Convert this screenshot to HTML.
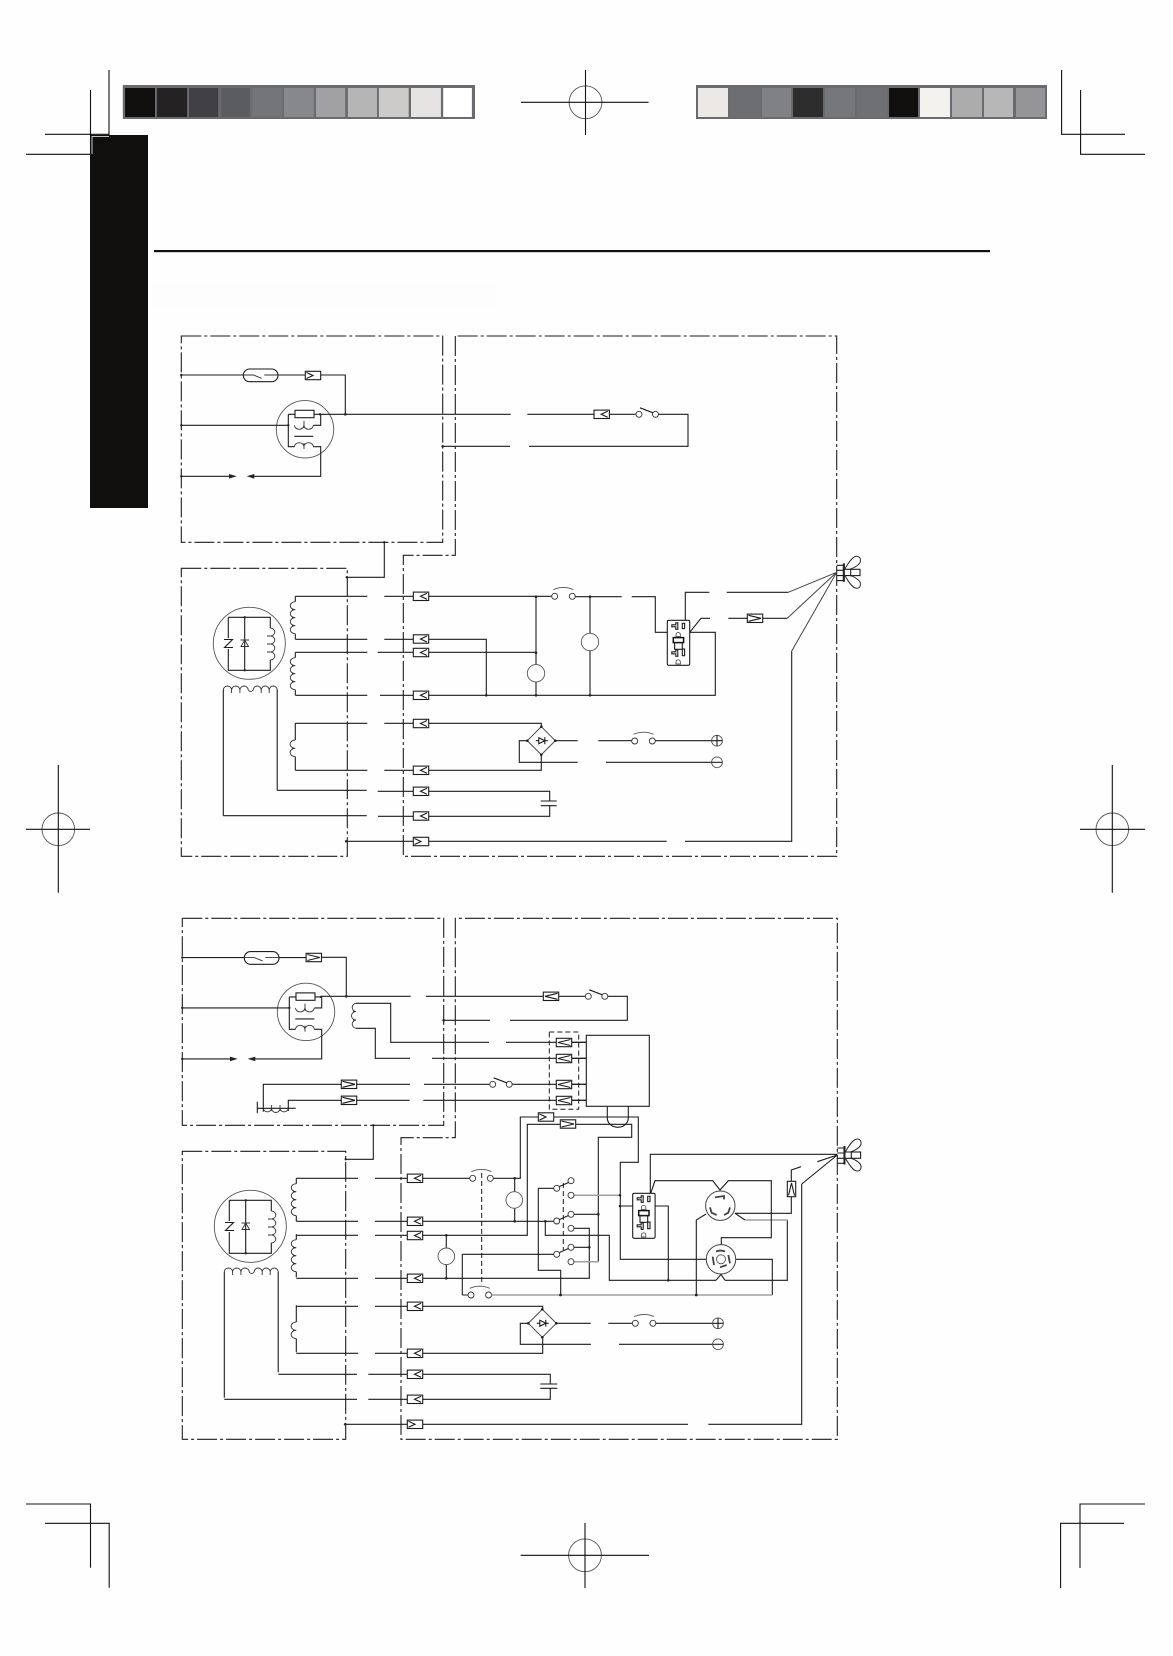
<!DOCTYPE html>
<html><head><meta charset="utf-8"><style>
html,body{margin:0;padding:0;background:#fefefe}
svg{display:block}
.w{fill:none;stroke:#1c1c1c;stroke-width:1.1}
.m{fill:none;stroke:#111;stroke-width:1.1}
.t{fill:none;stroke:#555;stroke-width:.9}
.k{fill:none;stroke:#333;stroke-width:.9}
.d{fill:none;stroke:#1c1c1c;stroke-width:1.1;stroke-dasharray:20 3 3 3}
.s{fill:none;stroke:#1c1c1c;stroke-width:1;stroke-dasharray:5 3}
.g{fill:none;stroke:#a0a0a0;stroke-width:1.5}
.c{fill:#fefefe;stroke:#333;stroke-width:.9}
.f{fill:#222;stroke:none}
</style></head><body>
<svg width="1173" height="1656" viewBox="0 0 1173 1656" xmlns="http://www.w3.org/2000/svg">
<defs>
<g id="cl"><rect x="-7.7" y="-4.2" width="15.4" height="8.4" fill="#fefefe" stroke="#1c1c1c" stroke-width="1.1"/><path class="w" d="M6 -3L-.5 0L6 3"/></g>
<g id="cr"><rect x="-7.7" y="-4.2" width="15.4" height="8.4" fill="#fefefe" stroke="#1c1c1c" stroke-width="1.1"/><path class="w" d="M-6.5 -3L0 0L-6.5 3"/></g>
<g id="cw"><rect x="-7.7" y="-4.2" width="15.4" height="8.4" fill="#fefefe" stroke="#1c1c1c" stroke-width="1.1"/><path class="w" d="M-6.5 -3L6 0L-6.5 3"/></g>
<g id="cn"><rect x="-7.7" y="-4.2" width="15.4" height="8.4" fill="#fefefe" stroke="#1c1c1c" stroke-width="1.1"/><path class="w" d="M6.5 -3L-6 0L6.5 3"/></g>
<g id="sw"><circle class="c" cx="0" cy="0" r="3"/><circle class="c" cx="17.6" cy="0" r="3"/><path class="t" d="M-1.3 -6.7Q8.8 -11 18.7 -6.7"/></g>
<g id="so"><circle class="c" cx="0" cy="0" r="3"/><circle class="c" cx="16.5" cy="0" r="3"/><path class="w" d="M1 -6.5L14 -1.5"/></g>
<g id="bridge"><path d="M0 -14L14 0L0 14L-14 0Z" fill="#fefefe" stroke="#444" stroke-width="1"/><path class="w" d="M-5.5 0H-2.5M3.5 0H6.5M3.5 -3.5V3.5"/><path class="w" d="M-2.5 -3L3.5 0L-2.5 3Z"/><circle class="f" cx="0" cy="-14" r="1.3"/><circle class="f" cx="0" cy="14" r="1.3"/><circle class="f" cx="-14" cy="0" r="1.3"/><circle class="f" cx="14" cy="0" r="1.3"/></g>
<g id="plus"><circle class="t" r="5.4"/><path class="w" d="M-5.4 0H5.4M0 -5.4V5.4"/></g>
<g id="minus"><circle class="t" r="5.4"/><path class="w" d="M-5.4 0H5.4"/></g>
<g id="outlet">
<rect x="0" y="0" width="22.4" height="45" rx="1.5" fill="#fefefe" stroke="#1c1c1c" stroke-width="1.1"/>
<rect class="w" x="15" y="3" width="2.3" height="5.3"/>
<path class="w" d="M8.5 2.5h2v6.5h-2v-2.5h-4v-2h4z"/>
<path class="t" d="M8.7 16.3v-2a2.2 2.2 0 0 1 4.4 0v2z"/>
<rect x="6" y="17.3" width="10.3" height="5" fill="#fefefe" stroke="#111" stroke-width="1.5"/>
<rect class="w" x="7.3" y="22.3" width="7.7" height="6.7"/>
<path class="w" d="M8.5 29.5h2v6.5h-2v-2.5h-4v-2h4z"/>
<rect class="w" x="15" y="28.7" width="2.3" height="6.7"/>
<path class="t" d="M8.7 43.7v-2a2.2 2.2 0 0 1 4.4 0v2z"/>
</g>
<g id="nut">
<path class="w" d="M8 -3H14M8 3.3H14"/>
<path class="w" d="M0 -7H6.7V8.3H0M0 -2H6.7M0 3.3H6.7"/>
<rect class="f" x="6.2" y="-9" width="2" height="18.5"/>
<path d="M8 -3C12 -10 16 -16 20 -16C24 -16 25 -11 22 -8C19 -5 16 -4 13 -3M8 3C12 10 16 16 20 16C24 16 25 11 22 8C19 5 16 4 13 3" fill="none" stroke="#2a2a2a" stroke-width="1"/>
<rect class="w" x="14" y="-3" width="9.3" height="6.3" fill="#fefefe"/>
</g>
<g id="tf">
<rect class="w" x="243.3" y="369" width="34.7" height="12.7" rx="6.3"/>
<path class="k" d="M243.3 375H253.3L261.7 378.3M264.3 375H278"/>
<circle class="t" cx="305" cy="429.3" r="28.7"/>
<rect class="w" x="295" y="410.3" width="19" height="7.4"/>
<path class="w" d="M181.3 375H243.3M278 375H305M181.3 425.3H288.3M288.3 414.3V446.7H294.5M288.3 414.3H295M314 414.3H320.7V425.3H313.5M294.3 436.3H313.3M313.3 446.7H320.7V476.3H250M181.3 476.3H232"/>
<path class="k" d="M294.5 425.3a4.7 4 0 0 0 9.4 0a4.7 4 0 0 0 9.4 0M294.5 446.7a4.7 -4 0 0 1 9.4 0a4.7 -4 0 0 1 9.4 0M304 421V428M304 443V449"/>
<path class="f" d="M229 474L236.7 476.3L229 478.6ZM254.3 474L246.7 476.3L254.3 478.6Z"/>
<circle class="f" cx="181.3" cy="375" r="1.2"/><circle class="f" cx="181.3" cy="425.3" r="1.2"/><circle class="f" cx="181.3" cy="476.3" r="1.2"/><circle class="f" cx="288.3" cy="425.3" r="1.2"/><circle class="f" cx="320" cy="414.3" r="1.2"/>
</g>
<g id="gen">
<circle class="t" cx="249.3" cy="643.3" r="36"/>
<path class="w" d="M228.3 617.3H270.3V628M270.3 660V670.3H228.3V617.3M244.7 617.3V670.3"/>
<path class="k" d="M270.3 628a4.5 4 0 0 1 0 8a4.5 4 0 0 1 0 8a4.5 4 0 0 1 0 8a4.5 4 0 0 1 0 8M267 636H270M267 644H270M267 652H270"/>
<rect x="224" y="638" width="9" height="11" fill="#fefefe"/>
<path class="w" d="M224 639.5H232.5L224.5 647.5H233"/>
<path class="k" d="M240.5 646.5H249M241 646.5L244.7 640L248.5 646.5M240.5 640H249"/>
<circle class="f" cx="244.7" cy="617.3" r="1.2"/><circle class="f" cx="244.7" cy="670.3" r="1.2"/>
</g>
<g id="coils">
<path class="w" d="M295.3 596.3V601.7M295.3 633.7V639.3M295.3 652.3V657.7M295.3 689.7V695.3M295.3 723.3V740M295.3 756.6V770.3M223.3 815.7V690M277.2 690V790.3"/>
<path class="k" d="M295.3 601.7a5 4 0 0 0 0 8a5 4 0 0 0 0 8a5 4 0 0 0 0 8a5 4 0 0 0 0 8M292 609.7H295M292 617.7H295M292 625.7H295"/>
<path class="k" d="M295.3 657.7a5 4 0 0 0 0 8a5 4 0 0 0 0 8a5 4 0 0 0 0 8a5 4 0 0 0 0 8M292 665.7H295M292 673.7H295M292 681.7H295"/>
<path class="k" d="M295.3 740a5 4 0 0 0 0 8.3a5 4 0 0 0 0 8.3M292 748.3H295"/>
<path class="k" d="M223.3 690a4.15 4 0 0 1 8.3 0a4.15 4 0 0 1 8.3 0a4.15 4 0 0 1 8.3 0q2.5 3 5 0a4 4 0 0 1 8 0a4 4 0 0 1 8 0a4 4 0 0 1 8 0M231.6 690v3M239.9 690v3M261.2 690v3M269.2 690v3"/>
</g>
</defs>

<rect x="153" y="283" width="342" height="24" fill="#fdfdfd"/>
<!-- printer marks -->
<rect x="90" y="135" width="58" height="373" fill="#100f0d"/>
<path d="M92 154V136.5H109" fill="none" stroke="#fff" stroke-width=".8"/>
<path class="m" d="M109 70V135M90.5 90V154.3M45 134.3H109M26 154.3H91"/>
<rect x="122.8" y="85" width="352.2" height="34" fill="#6a6a70"/>
<g>
<rect x="125.1" y="88" width="29.9" height="29" fill="#100f0d"/><rect x="156.9" y="88" width="30.2" height="29" fill="#242223"/><rect x="189" y="88" width="29.2" height="29" fill="#414044"/><rect x="221.2" y="88" width="28.7" height="29" fill="#5b5c60"/><rect x="252.2" y="88" width="29.8" height="29" fill="#747579"/><rect x="284" y="88" width="29.8" height="29" fill="#87888c"/><rect x="316.1" y="88" width="29.1" height="29" fill="#a1a1a3"/><rect x="347.9" y="88" width="29.1" height="29" fill="#b6b5b6"/><rect x="378.9" y="88" width="29.8" height="29" fill="#cccbc9"/><rect x="411" y="88" width="29.9" height="29" fill="#e5e4e2"/><rect x="443.2" y="88" width="28.7" height="29" fill="#fff"/>
</g>
<rect x="696" y="85" width="351" height="34" fill="#6a6a70"/>
<g>
<rect x="698" y="88" width="30" height="29" fill="#ebe8e6"/><rect x="730" y="88" width="30" height="29" fill="#6d6e72"/><rect x="762" y="88" width="29" height="29" fill="#808184"/><rect x="793" y="88" width="30" height="29" fill="#2d2d2e"/><rect x="825" y="88" width="30" height="29" fill="#76777b"/><rect x="857" y="88" width="30" height="29" fill="#6f7074"/><rect x="889" y="88" width="29" height="29" fill="#100f0d"/><rect x="920" y="88" width="30" height="29" fill="#f4f2ee"/><rect x="952" y="88" width="30" height="29" fill="#adacad"/><rect x="984" y="88" width="29" height="29" fill="#b8b7b8"/><rect x="1016" y="88" width="29" height="29" fill="#959597"/>
</g>
<circle class="t" cx="585.5" cy="102.3" r="16.4"/>
<path class="m" d="M585.5 70V135M521 102.3H648.6"/>
<path class="m" d="M1061.6 70V134.3H1125M1080.6 90V154.3H1145"/>
<rect x="154" y="250" width="836" height="2.2" fill="#111"/>
<circle class="t" cx="58.3" cy="829.3" r="16.3"/><path class="m" d="M58.3 765V892.7M26 829.3H90"/>
<circle class="t" cx="1112.3" cy="829.3" r="16.3"/><path class="m" d="M1112.3 765V892.7M1080 829.3H1145"/>
<path class="m" d="M26 1504H90.5V1567.7M45 1523.3H109.2V1587.7M1145 1504H1080V1568M1124 1523.3H1060.6V1588"/>
<circle class="t" cx="585" cy="1555.3" r="16.4"/><path class="m" d="M585 1523V1588M520.6 1555.3H649"/>

<!-- UPPER DIAGRAM -->
<rect class="d" x="181.3" y="336" width="261.4" height="206.3"/>
<path class="d" d="M455.3 336V555.3H403.3V856.3H836.7V336Z"/>
<rect class="d" x="181.3" y="568.3" width="166" height="288"/>
<use href="#tf"/>
<use href="#cr" x="313" y="375.5"/>
<path class="w" d="M320.7 375H345.3V414.3M320 414.3H510.7M527.3 414.3H594M609.4 414.3H636M658 414.3H688V446.3H529M442.7 446.3H510M384.3 542.3V577.3H346.7"/>
<circle class="f" cx="345.3" cy="414.3" r="1.3"/><circle class="f" cx="442.7" cy="446.3" r="1.3"/><circle class="f" cx="384.3" cy="542.3" r="1.2"/><circle class="f" cx="346.7" cy="577.3" r="1.2"/>
<use href="#cl" x="601.7" y="414.3"/>
<use href="#so" x="639" y="414.3"/>
<use href="#gen"/><use href="#coils"/>
<path class="w" d="M295.3 596.3H367.3M384.3 596.3H551.7M295.3 639.3H367.3M384.3 639.3H486.3V695.3M295.3 652.3H367.3M377.7 652.3H536M295.3 695.3H367.3M380 695.3H715.3V632.3H689.7M295.3 723.3H367.3M384.3 723.3H541.3V726.7M295.3 770.3H367.3M384.3 770.3H541.3V754.7M277.3 790.3H366.7M377.7 791.3H549.7V801M540.7 801H556.7M540.7 805.7H556.7M549.7 805.7V816.3H378M223.3 815.7H366.7M346 841.3H666.7M685 841.3H791.7V651M536 596.7V665M536 682V695.3M590 596.7V633.3M590 650.7V695.3M575 596.7H621.7M631.7 596.7H655.3V632.3H667.3"/>
<path class="w" d="M527.3 740.7H519.3V762.3H577.7M606 762.3H712M555.3 740.7H577.7M598.3 740.7H631.7M655.3 740.7H712M685.3 620.3V592.3H709.3M726.7 592.3H788.3M689.7 632.3L701 618.3H710M728.3 618.3H747.3M762.7 618.3H787.3"/>
<path d="M788.3 592.3L836.7 572.3M787.3 618.3L836.7 572.3M791.7 651L836.7 572.3" fill="none" stroke="#444" stroke-width="1"/>
<circle class="t" cx="536" cy="673.3" r="8.7"/><circle class="t" cx="590" cy="642" r="8.7"/>
<use href="#sw" x="554.7" y="596.3"/>
<use href="#outlet" x="667.3" y="620.3"/>
<use href="#cw" x="755" y="618.3"/>
<use href="#bridge" x="541.3" y="740.7"/>
<use href="#sw" x="634.7" y="741"/>
<use href="#plus" x="717" y="740.7"/><use href="#minus" x="717" y="762.3"/>
<use href="#nut" x="836.7" y="572.3"/>
<use href="#cl" x="421" y="596.3"/><use href="#cl" x="421" y="639"/><use href="#cl" x="421" y="652.5"/><use href="#cl" x="421" y="695.3"/><use href="#cl" x="421" y="723.5"/><use href="#cl" x="421" y="770.3"/><use href="#cl" x="421" y="791.3"/><use href="#cl" x="421" y="816"/><use href="#cr" x="421" y="841.5"/>
<circle class="f" cx="536" cy="596.7" r="1.3"/><circle class="f" cx="590" cy="596.7" r="1.3"/><circle class="f" cx="536" cy="652.7" r="1.3"/><circle class="f" cx="536" cy="695.3" r="1.3"/><circle class="f" cx="590" cy="695.3" r="1.3"/><circle class="f" cx="486.3" cy="695.3" r="1.3"/><circle class="f" cx="346" cy="841.3" r="1.2"/>

<!-- LOWER DIAGRAM -->
<rect class="d" x="182.3" y="918.3" width="261.4" height="207"/>
<path class="d" d="M455.3 918.3V1137.7H401V1439.3H837.3V918.3Z"/>
<rect class="d" x="182.3" y="1151.3" width="163.4" height="288"/>
<use href="#tf" transform="translate(1,582.6)"/>
<use href="#cw" x="313.8" y="957.5"/>
<path class="w" d="M321.7 957.3H346.3V996.3M321 996.3H410.7M426 996.3H543.3M558.7 996.3H585M608 996.3H627.3V1020.3H510M443.7 1020.3H490M373.3 1125.3V1159.3H345.7"/>
<circle class="f" cx="346.3" cy="996.3" r="1.3"/><circle class="f" cx="443.7" cy="1020.3" r="1.3"/><circle class="f" cx="373.3" cy="1125.3" r="1.2"/><circle class="f" cx="345.7" cy="1159.3" r="1.2"/>
<use href="#cn" x="551" y="996.3"/><use href="#so" x="588.3" y="996.3"/>
<path class="k" d="M356 1003.3a4.5 4.2 0 0 0 0 8.3a4.5 4.2 0 0 0 0 8.4a4.5 4.2 0 0 0 0 8.3M353 1011.6H356M353 1020H356"/>
<path class="w" d="M356 1003.3H390.7V1042.3H489M506 1042.3H586.3M356 1028.3H375.3V1058.3H410M432 1058.3H586.3"/>
<path class="w" d="M263.3 1111.7V1084.3H410M424 1084.3H489.3M512 1084.3H586.3M288.3 1111V1100.3H409.7M423.3 1100.3H586.3M257.3 1108.3H295.7M257.3 1101.7V1113.3"/>
<path class="k" d="M263.3 1108.5a4.2 4 0 0 0 8.3 0a4.2 4 0 0 0 8.4 0a4.2 4 0 0 0 8.3 0M271.6 1105V1111M280 1105V1111"/>
<use href="#cw" x="349" y="1084.3"/><use href="#cw" x="349" y="1100.3"/>
<use href="#so" x="492.7" y="1084.3"/>
<rect class="s" x="549.3" y="1032" width="29.4" height="77.3"/>
<rect x="586.3" y="1035.3" width="63" height="71" fill="#fefefe" stroke="#1c1c1c" stroke-width="1.1"/>
<path class="w" d="M571.7 1042.3H586.3M571.7 1058.3H586.3M571.7 1084.3H586.3M571.7 1100.3H586.3"/>
<use href="#cn" x="564" y="1042.5"/><use href="#cn" x="564" y="1058.5"/><use href="#cn" x="564" y="1084.5"/><use href="#cn" x="564" y="1100.5"/>
<path class="w" d="M607.3 1106.3V1118a10.5 9.3 0 0 0 21 0V1106.3"/>

<use href="#gen" transform="translate(1,583)"/><use href="#coils" transform="translate(1,582)"/>
<path class="w" d="M296.3 1178.3H358M375 1178.3H470M493 1178.3H520.3V1117H638.3V1162.3H620.3V1259.3H706.7M296.3 1221.3H358M375 1221.3H553.5M296.3 1235.3H358M375 1235.3H527.3V1124.3H631.7V1137.3H598.3V1261.7M296.3 1278.3H358M375 1278.3H589.3V1228.3H574M296.3 1306.3H358M375 1306.3H542.7V1309.3M296.3 1353.3H358M375 1353.3H542.7V1337.3M278.3 1374.3H357M368.3 1374.3H550.3V1384M540.3 1384H557.3M540.3 1388.3H557.3M550.3 1388.3V1399.3H368.3M224.3 1399.3H357M345 1424.3H688M708.3 1424.3H801.7V1184"/>
<path class="w" d="M514.7 1178.3V1191.7M514.7 1208.3V1221.3M446.3 1235.3V1248M446.3 1264.6V1278.3M545.3 1221.3V1235.3H609.3V1280.3H716M725 1280.3H787.3V1220"/>
<circle class="t" cx="514.3" cy="1200" r="8.3"/><circle class="t" cx="446.3" cy="1256.3" r="8.3"/>
<use href="#sw" x="472.7" y="1178.3"/>
<path class="w" d="M462.3 1295V1254.3H553.5M462.3 1295H468.3M538.3 1188.3H553.5M538.3 1188.3V1270.3H560.7V1295M574 1214.3H598.3M574 1247.3H589.3M772.3 1295V1259.3H735.7"/>
<path class="s" d="M481.7 1173V1285M563.3 1183V1250"/>
<use href="#sw" x="471" y="1295"/>
<path class="g" d="M491.5 1295H772.3M574 1261.7H598.3M574 1195.3H620M745 1220H787.3"/>
<circle class="c" cx="556.7" cy="1188.3" r="3"/><circle class="c" cx="556.7" cy="1221" r="3"/><circle class="c" cx="556.7" cy="1254.3" r="3"/>
<circle class="c" cx="571" cy="1180.7" r="3"/><circle class="c" cx="571" cy="1195.3" r="3"/><circle class="c" cx="571" cy="1214.3" r="3"/><circle class="c" cx="571" cy="1228.3" r="3"/><circle class="c" cx="571" cy="1247.3" r="3"/><circle class="c" cx="571" cy="1261.7" r="3"/>
<path class="w" d="M559.5 1186.5L568.5 1182.5M559.5 1219.5L568.5 1215.5M559.5 1252.5L568.5 1248.5"/>
<use href="#cr" x="546" y="1117"/><use href="#cw" x="568" y="1124"/>
<path class="w" d="M620.3 1206H632.7M655.3 1206H668.3V1280.3M650.3 1193.3V1154.3H837.3M650.7 1193.3L655 1180.7H712.7L720 1190L728.3 1180.7H771.3V1237.7H721.3V1245M735 1213.3H791.3V1170L801 1166.7M706 1214L696.3 1220V1295M745 1220L735 1213.3M716 1280.3L721 1274.3L725 1280.3M801.7 1184L837.3 1155M817.3 1161.7L837.3 1155"/>
<use href="#outlet" x="632.7" y="1193.3"/>
<circle cx="720.3" cy="1205.7" r="14.7" fill="#fefefe" stroke="#444" stroke-width="1"/>
<path d="M715 1197.4L724 1196V1199.4M710 1207.4L711.6 1212.7L716.6 1215M730 1207.4L728.3 1212.7L724 1215" fill="none" stroke="#444" stroke-width="1.8"/>
<circle cx="721" cy="1259.3" r="14.7" fill="#fefefe" stroke="#444" stroke-width="1"/>
<circle class="t" cx="721" cy="1259.3" r="4.5"/>
<path d="M716 1251.6Q720.5 1249.5 725 1251.6M728.3 1255L730 1263.3M720 1267.3L726.7 1265M712.7 1256.6L714 1265" fill="none" stroke="#444" stroke-width="1.8"/>
<use href="#cn" transform="translate(791.5,1189) rotate(90)"/>
<use href="#bridge" x="542.3" y="1323.3"/>
<use href="#sw" x="635.3" y="1323.3"/>
<path class="w" d="M528.3 1323.3H520.3V1344.3H591M619 1344.3H712.3M556.3 1323.3H590.7M608.3 1323.3H632.3M656 1323.3H712.3"/>
<use href="#plus" x="718" y="1323.3"/><use href="#minus" x="718" y="1344.3"/>
<use href="#nut" x="837.3" y="1155"/>
<use href="#cl" x="415" y="1178.3"/><use href="#cl" x="415" y="1221.3"/><use href="#cl" x="415" y="1235.5"/><use href="#cl" x="415" y="1278.3"/><use href="#cl" x="415" y="1306.3"/><use href="#cl" x="415" y="1353.3"/><use href="#cl" x="415" y="1374.3"/><use href="#cl" x="415" y="1399.3"/><use href="#cr" x="415" y="1424.3"/>
<g class="f">
<circle cx="514.7" cy="1178.3" r="1.3"/><circle cx="514.7" cy="1221.3" r="1.3"/><circle cx="545.3" cy="1221.3" r="1.3"/><circle cx="446.3" cy="1235.3" r="1.3"/><circle cx="446.3" cy="1278.3" r="1.3"/><circle cx="560.5" cy="1295" r="1.4"/><circle cx="696.3" cy="1295" r="1.4"/><circle cx="620" cy="1195.3" r="1.3"/><circle cx="620" cy="1206" r="1.3"/><circle cx="598.3" cy="1214.3" r="1.3"/><circle cx="589.3" cy="1247.3" r="1.3"/><circle cx="668.3" cy="1280.3" r="1.3"/><circle cx="345" cy="1424.3" r="1.2"/>
</g>
</svg>
</body></html>
